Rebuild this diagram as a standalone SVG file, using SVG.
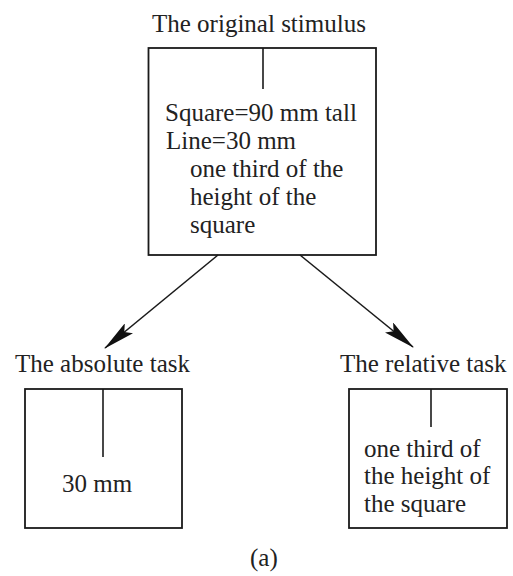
<svg xmlns="http://www.w3.org/2000/svg" width="513" height="576" viewBox="0 0 513 576">
<style>
text{font-family:"Liberation Serif","Times New Roman",serif;font-size:25px;fill:#222}
.box{fill:none;stroke:#1a1a1a;stroke-width:1.8}
.tick{stroke:#1a1a1a;stroke-width:1.6}
.conn{stroke:#1a1a1a;stroke-width:1.6;fill:none}
</style>
<defs>
<marker id="ah" viewBox="0 0 32 13" markerWidth="32" markerHeight="13" refX="31" refY="6.5" orient="auto" markerUnits="userSpaceOnUse">
<path d="M0,0 L32,6.5 L0,13 L6,6.5 z" fill="#111"/>
</marker>
</defs>
<rect width="513" height="576" fill="#fff"/>
<g id="original">
<text x="152" y="32">The original stimulus</text>
<rect class="box" x="148.5" y="48" width="227.5" height="207"/>
<line class="tick" x1="263" y1="48" x2="263" y2="89"/>
<text x="165" y="121">Square=90 mm tall</text>
<text x="166" y="149">Line=30 mm</text>
<text x="190" y="177">one third of the</text>
<text x="190" y="205">height of the</text>
<text x="190" y="233">square</text>
</g>
<g id="absolute">
<text x="15" y="372">The absolute task</text>
<rect class="box" x="25" y="389" width="157" height="139"/>
<line class="tick" x1="103" y1="389" x2="103" y2="457"/>
<text x="62" y="492">30 mm</text>
</g>
<g id="relative">
<text x="340" y="372">The relative task</text>
<rect class="box" x="349" y="389" width="158" height="139"/>
<line class="tick" x1="431" y1="389" x2="431" y2="427"/>
<text x="364" y="457">one third of</text>
<text x="364" y="484">the height of</text>
<text x="364" y="512">the square</text>
</g>
<g id="connectors">
<line class="conn" x1="218" y1="255" x2="105" y2="348" marker-end="url(#ah)"/>
<line class="conn" x1="300" y1="255" x2="413" y2="347" marker-end="url(#ah)"/>
</g>
<g id="caption">
<text x="250" y="566">(a)</text>
</g>
</svg>
